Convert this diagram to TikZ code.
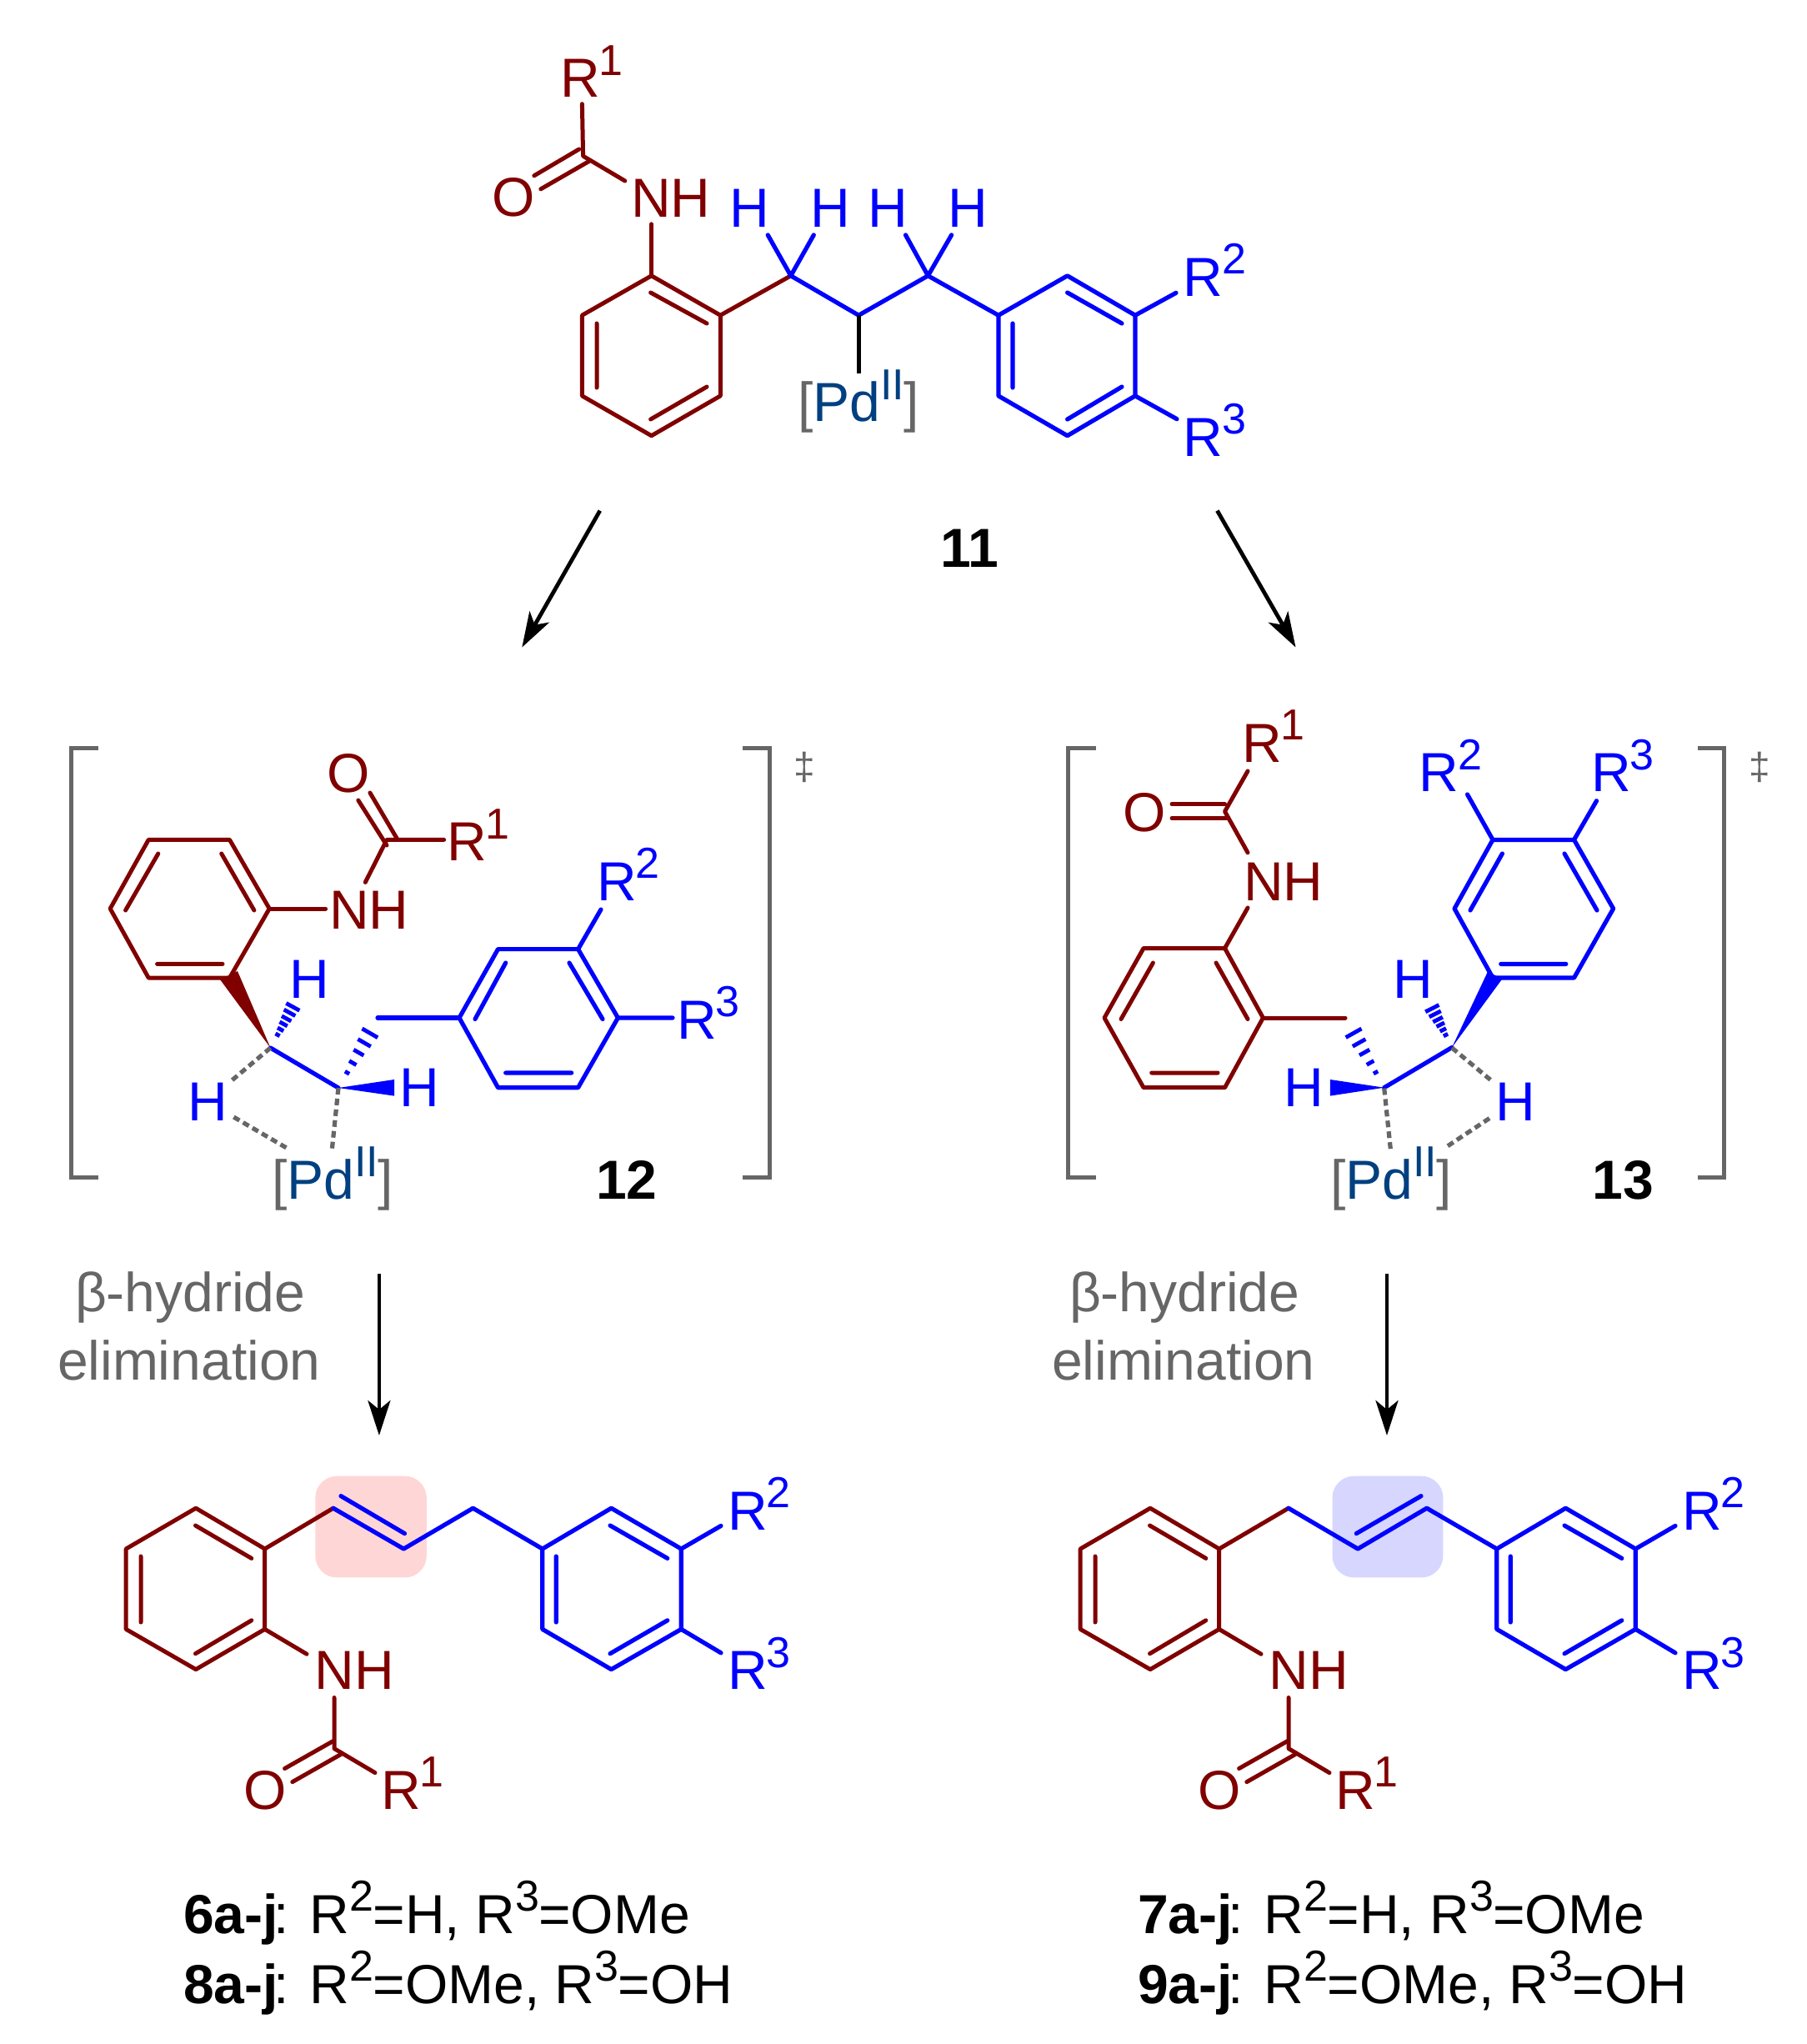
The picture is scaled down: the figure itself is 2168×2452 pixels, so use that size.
\documentclass[tikz,border=0pt]{standalone}
\usepackage{fontspec}
\setmainfont{Liberation Sans}
\usetikzlibrary{calc,arrows.meta}
\definecolor{brn}{HTML}{800000}
\definecolor{blu}{HTML}{0000FF}
\definecolor{pdc}{HTML}{004080}
\definecolor{gry}{HTML}{666666}
\definecolor{hlred}{HTML}{FFD6D6}
\definecolor{hlblue}{HTML}{D6D6FF}
\newcommand{\supr}[1]{\raisebox{13.2pt}{\fontsize{26}{28}\selectfont #1}}
\newcommand{\Rn}[1]{R\kern-.4pt\supr{#1}}
\newcommand{\Rc}[1]{R\supr{#1}\kern-.3pt}
\newcommand{\PdII}{{\color{gry}[}{\color{pdc}Pd\supr{II}}{\color{gry}]}}
% hashed bond: tip, far end, colour, half width factor, list of positions
\newcommand{\hashb}[5]{\foreach \t in {#5}{\draw[line width=2.4pt,#3]
  ($(#1)!\t!(#2)!{\t*#4}!90:(#2)$) -- ($(#1)!\t!(#2)!{\t*#4}!-90:(#2)$);}}
% product skeleton (shared by the two product structures)
\newcommand{\prodcore}[1]{
  \draw[brnb] (235,1809.2) -- (317.7,1858) -- (317.7,1954.4) -- (235,2002.6) -- (151.2,1954.4) -- (151.2,1858) -- cycle;
  \draw[brnb] (234.5,1830) -- (301.8,1869.4) (169,1867) -- (169,1946) (234.5,1983.7) -- (301.8,1943.8);
  \draw[brnb] (317.7,1954.4) -- (368,1984.2);
  \draw[brnb] (401,2036.5) -- (401,2097.6) -- (450,2126.6);
  \draw[brnb] (399.8,2088.5) -- (341.6,2121.5) (409,2104.5) -- (350.8,2137.6);
  \draw[blub] (650.8,1858) -- (733.4,1809.2) -- (817.3,1858) -- (817.3,1954.4) -- (733.4,2002.6) -- (650.8,1954.4) -- cycle;
  \draw[blub] (667.3,1867) -- (667.3,1946) (732,1830) -- (800.8,1869.4) (732,1983.7) -- (800.8,1943.8);
  \draw[blub] (817.3,1858) -- (865,1830.4) (817.3,1954.4) -- (865,1982.8);
  \node[lab,brn,anchor=base west] (#1NH) at (377.6,2026.4) {NH};
  \node[lab,brn,anchor=base] (#1O) at (318,2170) {O};
  \node[lab,brn,anchor=base west] (#1Ra) at (457,2170) {\Rn{1}};
  \node[lab,blu,anchor=base west] (#1Rb) at (873,1835) {\Rn{2}};
  \node[lab,blu,anchor=base west] (#1Rc) at (873,2026.4) {\Rn{3}};
}
\newcommand{\bracketpair}[5]{% left x, left tick, right tick, right x, dagger x
  \draw[brk] (#2,897.4) -- (#1,897.4) -- (#1,1412.3) -- (#2,1412.3);
  \draw[brk] (#3,897.4) -- (#4,897.4) -- (#4,1412.3) -- (#3,1412.3);
  \node[lab,gry,font=\fontsize{23}{25}\selectfont] (dag#5) at (#5,920) {‡};
}
\tikzset{
  x=.5pt,y=-.5pt,
  lab/.style={inner sep=0pt,outer sep=0pt,font=\fontsize{33}{36}\selectfont},
  boldlab/.style={lab,font=\fontsize{33}{36}\selectfont\bfseries},
  brnb/.style={draw=brn,line width=2.5pt,line cap=round,line join=round},
  blub/.style={draw=blu,line width=2.6pt,line cap=round,line join=round},
  brk/.style={draw=gry,line width=2.5pt,line join=miter},
  dsh/.style={draw=gry,line width=2.6pt,dash pattern=on 4pt off 2.5pt},
  rxn/.style={draw=black,line width=2.4pt,-{Stealth[length=21pt,width=13.5pt,inset=5.5pt]}},
}
\begin{document}
\begin{tikzpicture}
\useasboundingbox (0,0) rectangle (2168,2452);
\fill[white] (0,0) rectangle (2168,2452);

%%% compound 11
\draw[brnb] (781.6,330.8) -- (864.3,378.2) -- (864.3,474.9) -- (781.6,522.7) -- (698.4,474.9) -- (698.4,378.2) -- cycle;
\draw[brnb] (780.6,351) -- (848,388) (716,388) -- (716,465) (780.6,503) -- (848,464);
\draw[brnb] (864.3,378.2) -- (948.8,330.8);
\draw[brnb] (781.6,330.8) -- (781.6,268.8);
\draw[brnb] (698.4,124.7) -- (699.6,187.2) -- (749.8,217);
\draw[brnb] (694.7,179) -- (640.8,210.8) (707,193.3) -- (648.8,226.8);
\draw[blub] (948.8,330.8) -- (1030.2,378.2) -- (1113.4,330.8) -- (1197.9,378.2);
\draw[blub] (948.8,330.8) -- (921.2,281.9) (948.8,330.8) -- (976.3,281.9);
\draw[blub] (1113.4,330.8) -- (1086.5,281.9) (1113.4,330.8) -- (1141.6,281.9);
\draw[draw=black,line width=2.5pt] (1030.2,378.2) -- (1030.2,448.4);
\draw[blub] (1197.9,378.2) -- (1280.6,330.8) -- (1362,378.2) -- (1362,474.9) -- (1280.6,522.7) -- (1197.9,474.9) -- cycle;
\draw[blub] (1215,388) -- (1215,465) (1280.6,351) -- (1346,388) (1280.6,503) -- (1346,464);
\draw[blub] (1362,378.2) -- (1411,351.3) (1362,474.9) -- (1412,502.7);
\node[lab,brn,anchor=base west] (aRa) at (672,116.5) {\Rn{1}};
\node[lab,brn,anchor=base west] (aNH) at (757,260) {NH};
\node[lab,brn,anchor=base] (aO) at (616,259) {O};
\node[lab,blu,anchor=base] (aH1) at (899.8,272) {H};
\node[lab,blu,anchor=base] (aH2) at (995.9,272) {H};
\node[lab,blu,anchor=base] (aH3) at (1065.7,272) {H};
\node[lab,blu,anchor=base] (aH4) at (1161.2,272) {H};
\node[lab,blu,anchor=base west] (aRb) at (1419.4,355.3) {\Rn{2}};
\node[lab,blu,anchor=base west] (aRc) at (1419.4,547) {\Rn{3}};
\node[lab,anchor=base west] (aPd) at (957,505.5) {\PdII};
\node[boldlab,anchor=base] (aNum) at (1163,680) {11};

%%% arrows from 11
\coordinate (ar1s) at (719.8,612.6); \coordinate (ar1e) at (626.3,776.5);
\coordinate (ar2s) at (1460.4,612.6); \coordinate (ar2e) at (1554.5,776.5);
\draw[rxn] (ar1s) -- (ar1e);
\draw[rxn] (ar2s) -- (ar2e);

%%% compound 12
\bracketpair{85.7}{118}{890.8}{923.2}{965}
\draw[brnb] (178.2,1007.4) -- (275.5,1007.4) -- (323.2,1090) -- (275.5,1173) -- (178.2,1173) -- (132.2,1090) -- cycle;
\draw[brnb] (189.8,1024) -- (150.6,1092) (265.7,1024) -- (304.9,1092) (188.6,1156.4) -- (267,1156.4);
\draw[brnb] (323.2,1090) -- (390.6,1090);
\draw[brnb] (438.3,1058.4) -- (464,1007.4) -- (532.6,1007.4);
\draw[brnb] (443.9,951) -- (476.3,1006) (429.8,960) -- (464,1014);
\fill[brn] (324.5,1257) -- (264,1175) -- (285,1165) -- cycle;
\coordinate (bC1) at (324.5,1257); \coordinate (bC2) at (406,1305);
\coordinate (bH1) at (354,1203); \coordinate (bH2) at (448,1232);
\draw[blub] (bC1) -- (bC2);
\hashb{bC1}{bH1}{blu}{5pt}{.29,.41,.53,.65,.78,.91}
\hashb{bC2}{bH2}{blu}{6pt}{.25,.41,.58,.74,.9}
\fill[blu] (406,1305) -- (473,1295) -- (473,1314.6) -- cycle;
\draw[blub] (453,1221) -- (551,1221);
\draw[blub] (551,1221) -- (597.5,1138.6) -- (693.6,1138.6) -- (741.4,1221) -- (693.6,1304.7) -- (597.5,1304.7) -- cycle;
\draw[blub] (606.7,1155) -- (570,1222.5) (683,1155) -- (723,1222.5) (606.7,1287) -- (685.7,1287);
\draw[blub] (693.6,1138.6) -- (721,1091) (741.4,1221) -- (807,1221);
\draw[dsh] (324.5,1257) -- (277,1297);
\draw[dsh] (280.4,1340) -- (346.5,1378.6);
\draw[dsh] (406,1305) -- (398,1382);
\node[lab,brn,anchor=base] (bO) at (418,950) {O};
\node[lab,brn,anchor=base west] (bRa) at (536,1032.7) {\Rn{1}};
\node[lab,brn,anchor=base west] (bNH) at (395,1114) {NH};
\node[lab,blu,anchor=base west] (bRb) at (716,1080) {\Rn{2}};
\node[lab,blu,anchor=base west] (bRc) at (812,1246) {\Rn{3}};
\node[lab,blu,anchor=base] (bHa) at (371.6,1197) {H};
\node[lab,blu,anchor=base] (bHb) at (503.8,1327.6) {H};
\node[lab,blu,anchor=base] (bHc) at (249,1344) {H};
\node[lab,anchor=base west] (bPd) at (326,1438) {\PdII};
\node[boldlab,anchor=base] (bNum) at (752,1438) {12};

%%% compound 13
\bracketpair{1281.8}{1314.5}{2036.6}{2068.3}{2111}
\draw[brnb] (1372,1137.5) -- (1469.5,1137.5) -- (1515.4,1221) -- (1469.5,1304.7) -- (1372,1304.7) -- (1325,1221) -- cycle;
\draw[brnb] (1383.4,1155) -- (1345,1222.5) (1459,1155) -- (1497,1222.5) (1381.7,1287) -- (1461,1287);
\draw[brnb] (1515.4,1221) -- (1614,1221);
\draw[brnb] (1469.5,1137.5) -- (1497,1089);
\draw[brnb] (1497,1022.8) -- (1469.5,973.4) -- (1497,925);
\draw[brnb] (1406,964.7) -- (1469.5,964.7) (1406,981.7) -- (1473.5,981.7);
\coordinate (cC1) at (1742,1256.5); \coordinate (cC2) at (1660.7,1304.7);
\coordinate (cH1) at (1716,1205); \coordinate (cH2) at (1620,1232);
\draw[blub] (cC2) -- (cC1);
\hashb{cC1}{cH1}{blu}{5pt}{.29,.41,.53,.65,.78,.91}
\hashb{cC2}{cH2}{blu}{6pt}{.25,.41,.58,.74,.9}
\fill[blu] (1742,1256.5) -- (1785,1165.5) -- (1802.4,1174.2) -- cycle;
\fill[blu] (1660.7,1304.7) -- (1595.8,1295) -- (1595.8,1314.6) -- cycle;
\draw[blub] (1791,1007.4) -- (1888.5,1007.4) -- (1935.6,1090) -- (1888.5,1173) -- (1791,1173) -- (1745,1090) -- cycle;
\draw[blub] (1802.4,1024) -- (1764,1092) (1877,1024) -- (1916,1092) (1800.7,1156.4) -- (1878.8,1156.4);
\draw[blub] (1791,1007.4) -- (1760.5,953) (1888.5,1007.4) -- (1915.5,960.7);
\draw[dsh] (1742,1257) -- (1789,1296);
\draw[dsh] (1787,1341.5) -- (1735,1376);
\draw[dsh] (1660.7,1305.5) -- (1668.7,1382);
\node[lab,brn,anchor=base west] (cRa) at (1490,914) {\Rn{1}};
\node[lab,brn,anchor=base] (cO) at (1373,997) {O};
\node[lab,brn,anchor=base west] (cNH) at (1492,1080) {NH};
\node[lab,blu,anchor=base west] (cRb) at (1702.7,949.6) {\Rn{2}};
\node[lab,blu,anchor=base west] (cRc) at (1909,949.6) {\Rn{3}};
\node[lab,blu,anchor=base] (cHa) at (1695.5,1197) {H};
\node[lab,blu,anchor=base] (cHb) at (1564,1327.6) {H};
\node[lab,blu,anchor=base] (cHc) at (1818,1344) {H};
\node[lab,anchor=base west] (cPd) at (1596,1438) {\PdII};
\node[boldlab,anchor=base] (cNum) at (1947,1438) {13};

%%% elimination labels and arrows
\node[lab,gry,anchor=base west] (dA) at (90,1573.2) {β-hydride};
\node[lab,gry,anchor=base west] (dB) at (69,1655) {elimination};
\node[lab,gry,anchor=base west] (eA) at (1283,1573.2) {β-hydride};
\node[lab,gry,anchor=base west] (eB) at (1262,1655) {elimination};
\coordinate (ar3s) at (454.9,1528); \coordinate (ar3e) at (454.9,1722);
\coordinate (ar4s) at (1664,1528); \coordinate (ar4e) at (1664,1722);
\draw[rxn] (ar3s) -- (ar3e);
\draw[rxn] (ar4s) -- (ar4e);

%%% product left
\fill[hlred,rounded corners=13pt] (378.3,1770.7) rectangle (511.8,1892.4);
\prodcore{p}
\draw[brnb] (317.7,1858) -- (399.8,1809.2);
\draw[blub] (399.8,1809.2) -- (484.3,1858) -- (567.5,1809.2) -- (650.8,1858);
\draw[blub] (409,1794.6) -- (485.5,1839.6);

%%% product right
\fill[hlblue,rounded corners=13pt] (1598.5,1770.7) rectangle (1731.4,1892.4);
\begin{scope}[shift={(1145,0)}]
\prodcore{q}
\draw[brnb] (317.7,1858) -- (400.9,1809.2);
\draw[blub] (400.9,1809.2) -- (484.1,1858) -- (566.8,1809.2) -- (650.8,1858);
\draw[blub] (482.3,1839.6) -- (560,1794.6);
\end{scope}

%%% captions
\node[lab,anchor=base west] (capA) at (220,2319) {\textbf{6a-j}\kern-2.5pt: \Rc{2}=H, \Rc{3}=OMe};
\node[lab,anchor=base west] (capB) at (220,2403) {\textbf{8a-j}\kern-2.5pt: \Rc{2}=OMe, \Rc{3}=OH};
\node[lab,anchor=base west] (capC) at (1365,2319) {\textbf{7a-j}\kern-2.5pt: \Rc{2}=H, \Rc{3}=OMe};
\node[lab,anchor=base west] (capD) at (1365,2403) {\textbf{9a-j}\kern-2.5pt: \Rc{2}=OMe, \Rc{3}=OH};
\end{tikzpicture}
\end{document}
